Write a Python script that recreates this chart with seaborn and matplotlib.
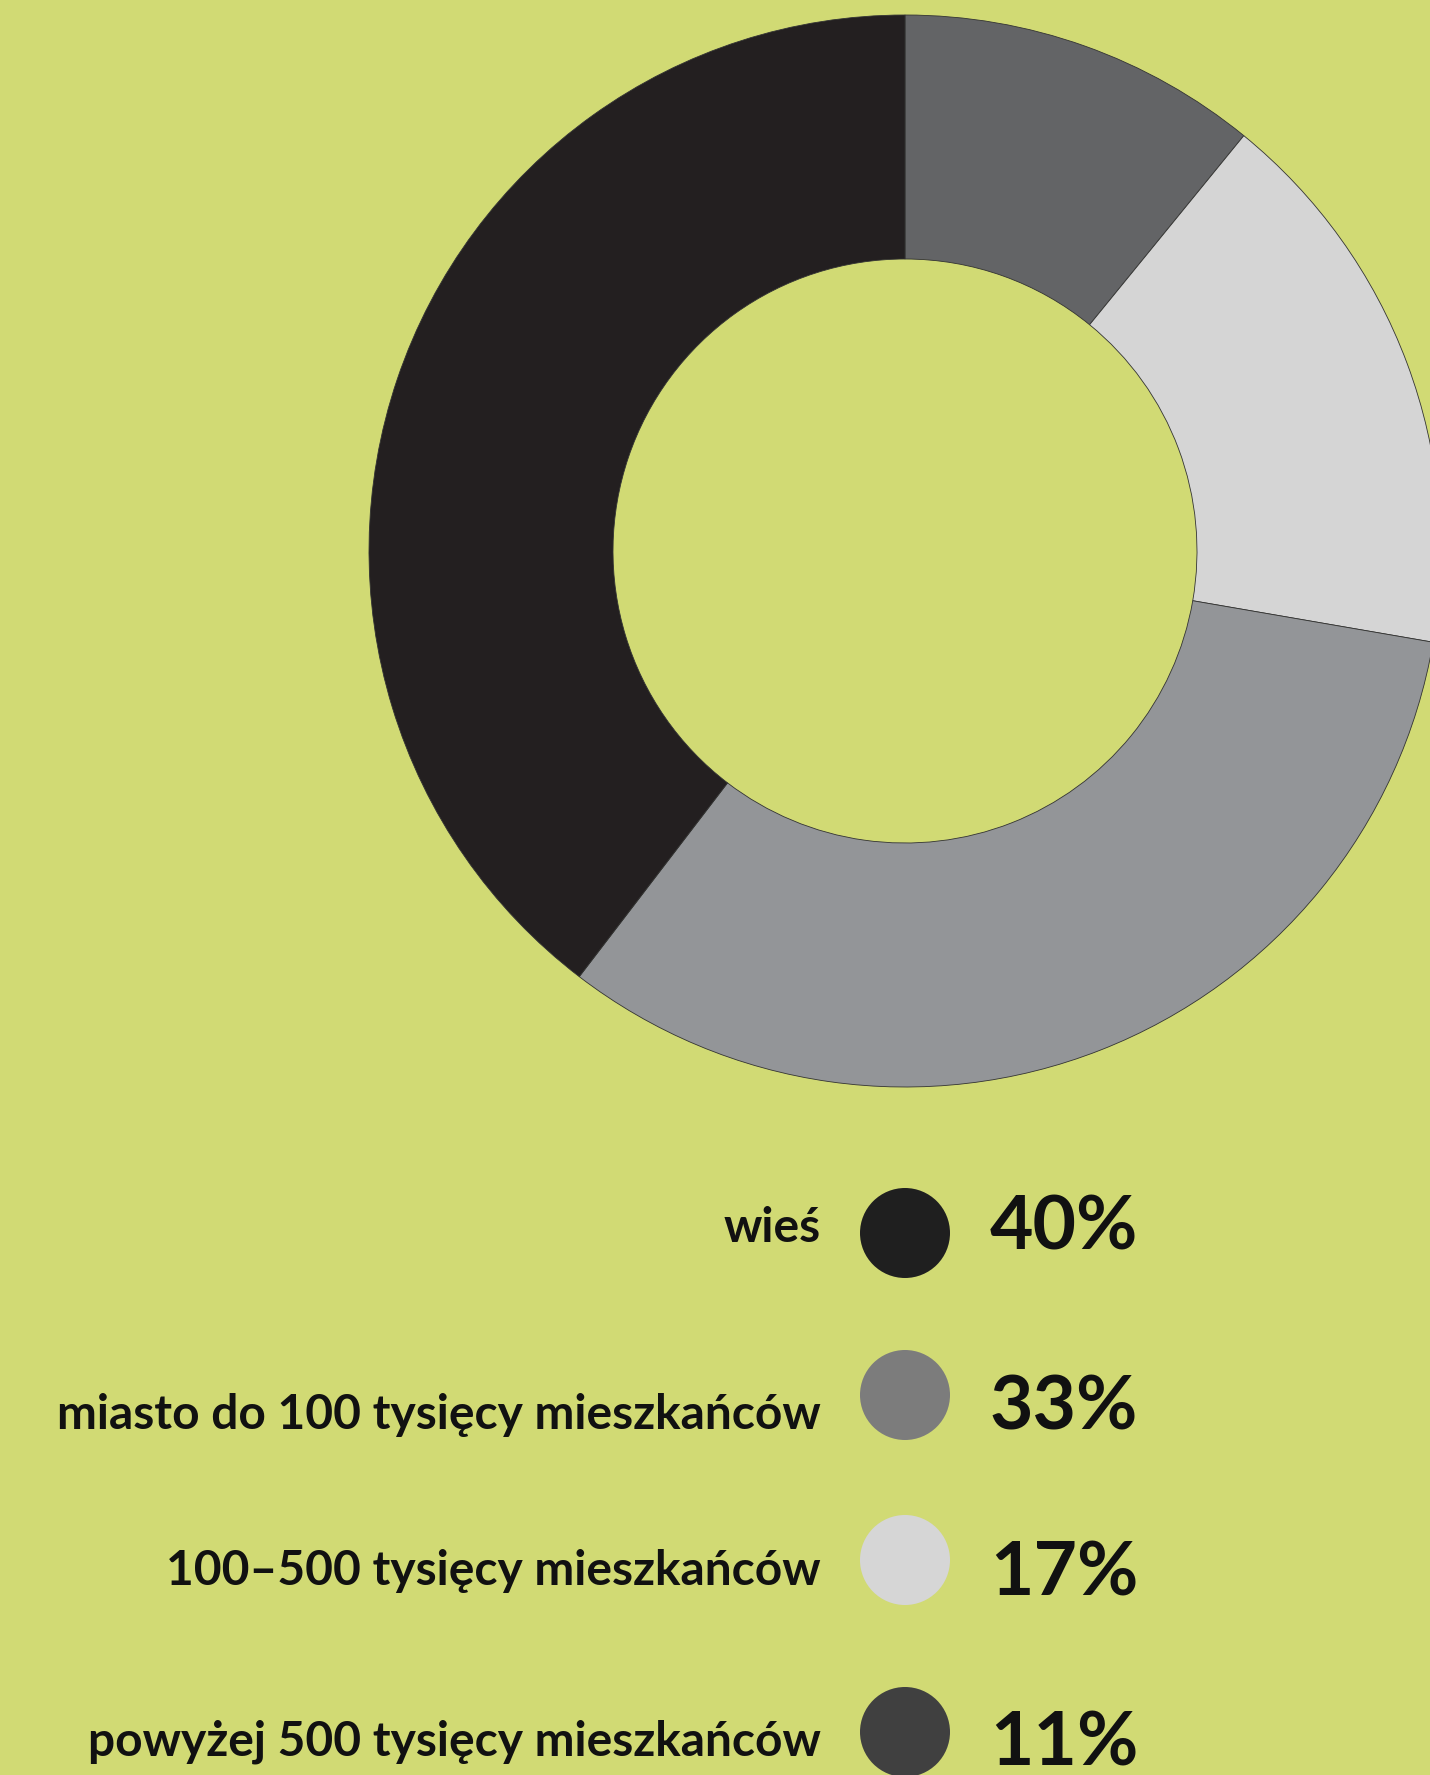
import matplotlib
matplotlib.use("Agg")
import matplotlib.pyplot as plt
import seaborn as sns
import pandas as pd

# Share of respondents by place of residence (percent)
categories = ["wieś", "miasto do 100 tysięcy mieszkańców",
              "100–500 tysięcy mieszkańców", "powyżej 500 tysięcy mieszkańców"]
shares = [40, 33, 17, 11]
share_labels = ["40%", "33%", "17%", "11%"]

# Ring colours (drawn clockwise from 12 o'clock, smallest group first)
ring_order = [3, 2, 1, 0]
ring_colors = {0: "#231f20", 1: "#939598", 2: "#d5d5d5", 3: "#636466"}
# Legend dot colours
dot_colors = ["#1f1f1f", "#7c7c7c", "#d6d6d6", "#404040"]

BG = "#d1da74"
W, H = 1430, 1775

sns.set_theme(style="white")
plt.rcParams["font.family"] = ["Lato", "DejaVu Sans"]

fig = plt.figure(figsize=(W / 100, H / 100), dpi=100, facecolor=BG)
ax = fig.add_axes([0, 0, 1, 1])
ax.set_facecolor(BG)

# Donut
ax.pie([shares[i] for i in ring_order],
       colors=[ring_colors[i] for i in ring_order],
       startangle=90, counterclock=False,
       center=(905, H - 551), radius=536,
       wedgeprops=dict(width=244, edgecolor="#333333", linewidth=0.6))

# Legend rows
legend = pd.DataFrame({
    "category": categories,
    "label": share_labels,
    "dot_y": [H - 1233, H - 1395, H - 1560, H - 1732],
    "text_y": [H - 1242, H - 1429, H - 1585, H - 1756],
    "pct_y": [H - 1250, H - 1429, H - 1596, H - 1766],
})
legend["dot_x"] = 905

sns.scatterplot(data=legend, x="dot_x", y="dot_y", hue="category",
                palette=dot_colors, s=4200, linewidth=0, legend=False, ax=ax)

for _, row in legend.iterrows():
    ax.text(821, row["text_y"], row["category"], ha="right", va="baseline",
            fontsize=34.5, fontweight="bold", color="#111111")
    ax.text(990, row["pct_y"], row["label"], ha="left", va="baseline",
            fontsize=54, fontweight="bold", color="#111111")

ax.set_xlim(0, W)
ax.set_ylim(0, H)
ax.set_aspect("equal")
ax.set_axis_off()

fig.savefig("out.png", dpi=100, facecolor=BG)
